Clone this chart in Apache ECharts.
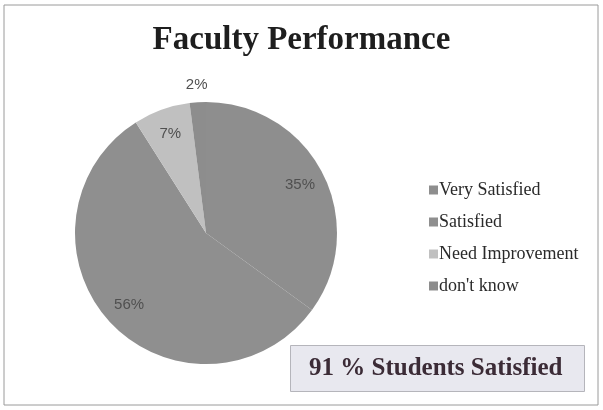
<!DOCTYPE html>
<html>
<head>
<meta charset="utf-8">
<script src="https://cdn.jsdelivr.net/npm/echarts@6/dist/echarts.min.js"></script>
<style>
  html, body { margin: 0; padding: 0; background: #fff; }
  #main { width: 603px; height: 410px; }
</style>
</head>
<body>
<div id="main"></div>
<script>
// 数据
var categories = ["Very Satisfied", "Satisfied", "Need Improvement", "don't know"];
var percents = [35, 56, 7, 2];
var sliceColors = ["#8e8e8e", "#8f8f8f", "#c0c0c0", "#8d8d8d"];

var pieData = categories.map(function (name, i) {
  return { name: name, value: percents[i], itemStyle: { color: sliceColors[i] } };
});

// 标签层：透明饼图，让内部标签落在约 0.8 半径处
var labelData = categories.map(function (name, i) {
  return { name: name, value: percents[i], label: { show: i !== 3 } };
});
// 2% 的标签在饼外上方
var outerLabelData = categories.map(function (name, i) {
  return { name: name, value: percents[i], label: { show: i === 3 } };
});

var labelFont = {
  fontFamily: "Liberation Sans",
  fontSize: 15,
  color: "#505050"
};

var chart = echarts.init(document.getElementById("main"));
var option = {
  backgroundColor: "#fff",
  animation: false,
  title: [
    {
      text: "Faculty Performance",
      left: "center",
      top: 19,
      textStyle: {
        fontFamily: "Liberation Serif",
        fontSize: 33,
        fontWeight: "bold",
        color: "#1e1e1e"
      }
    },
    {
      text: "91 % Students Satisfied",
      left: 290,
      top: 345,
      padding: [11, 22, 11, 19],
      backgroundColor: "#e8e8ef",
      borderColor: "#b5b5bb",
      borderWidth: 1,
      textStyle: {
        fontFamily: "Liberation Serif",
        fontSize: 25,
        fontWeight: "bold",
        color: "#3b2b36"
      }
    }
  ],
  legend: {
    orient: "vertical",
    left: 424,
    top: 176,
    itemWidth: 9,
    itemHeight: 9,
    itemGap: 14,
    icon: "rect",
    data: categories,
    textStyle: {
      fontFamily: "Liberation Serif",
      fontSize: 18,
      color: "#2a2a2a",
      padding: [0, 0, 0, -4]
    }
  },
  graphic: [
    {
      type: "rect",
      shape: { x: 4, y: 5, width: 594, height: 400 },
      style: { fill: "none", stroke: "#9a9a9a", lineWidth: 1 },
      silent: true
    }
  ],
  series: [
    {
      type: "pie",
      center: [206, 233],
      radius: 131,
      startAngle: 90,
      clockwise: true,
      silent: true,
      data: pieData,
      itemStyle: { borderWidth: 0 },
      label: { show: false },
      labelLine: { show: false }
    },
    {
      type: "pie",
      center: [206, 233],
      radius: [0, 205],
      startAngle: 90,
      clockwise: true,
      silent: true,
      data: labelData,
      itemStyle: { color: "rgba(0,0,0,0)" },
      label: Object.assign({ position: "inside", formatter: "{c}%" }, labelFont),
      labelLine: { show: false }
    },
    {
      type: "pie",
      center: [206, 233],
      radius: [0, 290],
      startAngle: 90,
      clockwise: true,
      silent: true,
      data: outerLabelData,
      itemStyle: { color: "rgba(0,0,0,0)" },
      label: Object.assign({ position: "inside", formatter: "{c}%" }, labelFont),
      labelLine: { show: false }
    }
  ]
};
chart.setOption(option);
</script>
</body>
</html>
